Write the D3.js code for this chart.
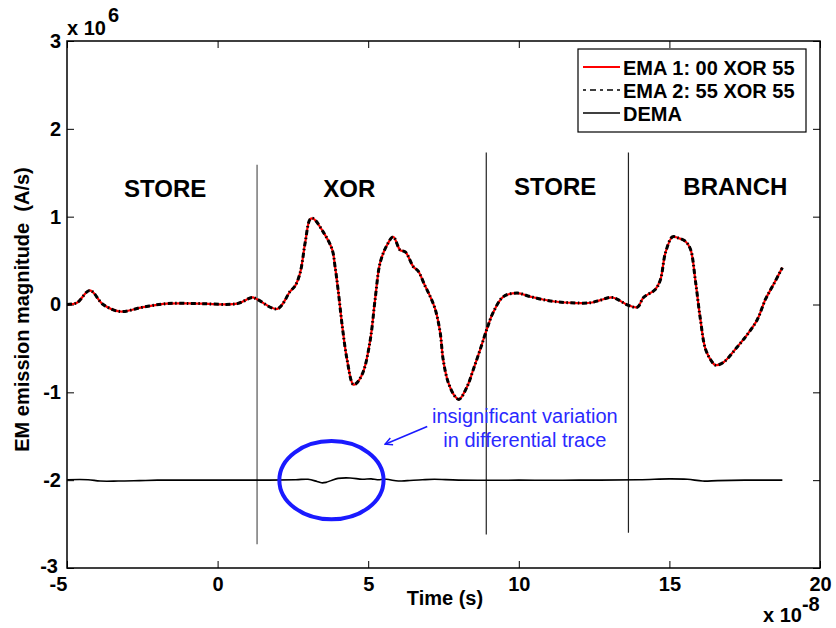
<!DOCTYPE html>
<html>
<head>
<meta charset="utf-8">
<script src="https://cdn.jsdelivr.net/npm/d3@7"></script>
<style>
  html, body { margin: 0; padding: 0; background: #fff; }
  svg { display: block; font-family: "Liberation Sans", Arial, sans-serif; }
</style>
</head>
<body>
<svg id="chart" width="836" height="628"></svg>
<script>
// Time axis in units of 1e-8 s, magnitude in units of 1e6 A/s
const timeEMA1 = [-5.00, -4.67, -4.24, -3.80, -3.24, -2.48, -1.68, -0.58, 0.65, 1.15, 1.31, 1.98,
  2.41, 2.57, 2.74, 2.91, 3.07, 3.17, 3.50, 3.80, 3.90, 4.00, 4.14, 4.30, 4.50, 4.60, 4.83,
  5.07, 5.23, 5.40, 5.63, 5.83, 6.06, 6.23, 6.50, 6.66, 6.89, 7.06, 7.23, 7.39, 7.49, 7.66,
  7.89, 8.02, 8.29, 8.49, 8.72, 8.95, 9.15, 9.49, 9.95, 10.38, 11.05, 11.71, 12.38, 12.71,
  13.11, 13.64, 13.94, 14.14, 14.53, 14.70, 14.87, 15.10, 15.27, 15.53, 15.70, 15.86, 16.03,
  16.20, 16.43, 16.53, 16.79, 17.26, 17.59, 17.92, 18.19, 18.46, 18.75];
const valuesEMA1 = [0.00, 0.02, 0.16, 0.00, -0.08, -0.03, 0.01, 0.01, 0.01, 0.08, 0.06, -0.05,
  0.15, 0.21, 0.36, 0.71, 0.97, 0.98, 0.83, 0.63, 0.43, 0.17, -0.25, -0.63, -0.91, -0.90, -0.77,
  -0.40, 0.06, 0.48, 0.68, 0.77, 0.62, 0.60, 0.43, 0.38, 0.21, 0.09, -0.06, -0.32, -0.63, -0.89,
  -1.05, -1.08, -0.93, -0.74, -0.51, -0.27, -0.09, 0.09, 0.13, 0.09, 0.04, 0.02, 0.02, 0.05,
  0.08, -0.01, -0.03, 0.08, 0.17, 0.28, 0.59, 0.77, 0.76, 0.72, 0.63, 0.28, -0.17,
  -0.51, -0.66, -0.69, -0.66, -0.48, -0.34, -0.17, 0.06, 0.23, 0.42];

const timeEMA2 = timeEMA1;
const valuesEMA2 = [0.00, 0.02, 0.16, 0.00, -0.08, -0.03, 0.01, 0.01, 0.01, 0.08, 0.06, -0.05,
  0.15, 0.21, 0.36, 0.71, 0.97, 0.98, 0.83, 0.63, 0.43, 0.17, -0.25, -0.63, -0.91, -0.90, -0.77,
  -0.40, 0.06, 0.48, 0.68, 0.77, 0.62, 0.60, 0.43, 0.38, 0.21, 0.09, -0.06, -0.32, -0.63, -0.89,
  -1.05, -1.08, -0.93, -0.74, -0.51, -0.27, -0.09, 0.09, 0.13, 0.09, 0.04, 0.02, 0.02, 0.05,
  0.08, -0.01, -0.03, 0.08, 0.17, 0.28, 0.59, 0.77, 0.76, 0.72, 0.63, 0.28, -0.17,
  -0.51, -0.66, -0.69, -0.66, -0.48, -0.34, -0.17, 0.06, 0.23, 0.42];

// Differential trace, shifted to -2
const timeDEMA = [-5.0, -4.3, -3.9, -3.3, -2.6, -2.0, 0.0, 1.5, 2.6, 3.0, 3.3, 3.45, 3.6, 3.8,
  4.0, 4.4, 4.8, 5.1, 5.3, 5.6, 6.0, 6.3, 6.8, 7.2, 8.0, 10.0, 12.0, 14.0, 15.0, 15.6, 16.1,
  16.6, 17.5, 18.75];
const valuesDEMA = [-1.995, -1.995, -2.01, -2.01, -2.005, -2.0, -2.0, -2.0, -1.995, -1.99, -2.015,
  -2.03, -2.025, -2.0, -1.98, -1.975, -1.99, -1.985, -1.995, -1.99, -2.01, -2.005, -1.995,
  -1.99, -2.0, -2.0, -2.0, -1.995, -1.985, -1.99, -2.01, -2.005, -2.0, -2.0];

const xTicks = [-5, 0, 5, 10, 15, 20];
const yTicks = [-3, -2, -1, 0, 1, 2, 3];

const seriesNames = ["EMA 1: 00 XOR 55", "EMA 2: 55 XOR 55", "DEMA"];

// Instruction boundaries: time, top, bottom
const boundaryTime = [1.31, 8.92, 13.64];
const boundaryTop = [1.59, 1.73, 1.73];
const boundaryBottom = [-2.73, -2.62, -2.60];

const sectionNames = ["STORE", "XOR", "STORE", "BRANCH"];
const sectionTime = [-1.74, 4.37, 11.21, 17.19];
const sectionLevel = [1.22, 1.22, 1.25, 1.25];

const noteLines = ["insignificant variation", "in differential trace"];

const svg = d3.select("#chart");
const plotLeft = 67, plotRight = 820, plotTop = 41, plotBottom = 568;

const x = d3.scaleLinear().domain([-5, 20]).range([plotLeft, plotRight]);
const y = d3.scaleLinear().domain([-3, 3]).range([plotBottom, plotTop]);

const plainNumber = d => String(d);

const tickFont = g => g.selectAll("text")
  .attr("font-size", 20).attr("font-weight", "bold").attr("fill", "#000")
  .attr("font-family", "Liberation Sans, Arial, sans-serif");

// Axes with inward ticks, mirrored on top and right
const gx = svg.append("g").attr("transform", `translate(0,${plotBottom})`)
  .call(d3.axisBottom(x).tickValues(xTicks).tickFormat(plainNumber)
    .tickSizeInner(-7).tickSizeOuter(0).tickPadding(9))
  .call(tickFont);
gx.select(".domain").remove();
gx.selectAll("line").attr("stroke", "#000");
gx.selectAll(".tick").filter(d => d === -5).select("text").attr("dx", -9);

const gy = svg.append("g").attr("transform", `translate(${plotLeft},0)`)
  .call(d3.axisLeft(y).tickValues(yTicks).tickFormat(plainNumber)
    .tickSizeInner(-7).tickSizeOuter(0).tickPadding(6))
  .call(tickFont);
gy.select(".domain").remove();
gy.selectAll("line").attr("stroke", "#000");
gy.selectAll(".tick").filter(d => d === -3).select("text").attr("dx", -3).attr("dy", "0.2em");

const gt = svg.append("g").attr("transform", `translate(0,${plotTop})`)
  .call(d3.axisTop(x).tickValues(xTicks).tickSizeInner(-7).tickSizeOuter(0).tickFormat(""));
gt.select(".domain").remove();
gt.selectAll("line").attr("stroke", "#000");

const gr = svg.append("g").attr("transform", `translate(${plotRight},0)`)
  .call(d3.axisRight(y).tickValues(yTicks).tickSizeInner(-7).tickSizeOuter(0).tickFormat(""));
gr.select(".domain").remove();
gr.selectAll("line").attr("stroke", "#000");

svg.append("rect")
  .attr("x", plotLeft).attr("y", plotTop)
  .attr("width", plotRight - plotLeft).attr("height", plotBottom - plotTop)
  .attr("fill", "none").attr("stroke", "#000").attr("stroke-width", 1.5);

// Exponent labels
const expTop = svg.append("text").attr("x", 67).attr("y", 35)
  .attr("font-size", 20).attr("font-weight", "bold");
expTop.append("tspan").text("x 10");
expTop.append("tspan").attr("dy", -13).attr("dx", 2).text("6");

const expBottom = svg.append("text").attr("x", 763).attr("y", 622)
  .attr("font-size", 20).attr("font-weight", "bold");
expBottom.append("tspan").text("x 10");
expBottom.append("tspan").attr("dy", -11).text("-8");

// Axis titles
svg.append("text")
  .attr("x", 445).attr("y", 605)
  .attr("text-anchor", "middle")
  .attr("font-size", 20).attr("font-weight", "bold")
  .text("Time (s)");

svg.append("text")
  .attr("transform", `translate(29,${(plotTop + plotBottom) / 2 + 5}) rotate(-90)`)
  .attr("text-anchor", "middle")
  .attr("font-size", 20).attr("font-weight", "bold")
  .attr("xml:space", "preserve")
  .text("EM emission magnitude  (A/s)");

// Instruction boundaries
svg.append("g").selectAll("line")
  .data(boundaryTime)
  .join("line")
  .attr("x1", d => x(d)).attr("x2", d => x(d))
  .attr("y1", (d, i) => y(boundaryTop[i]))
  .attr("y2", (d, i) => y(boundaryBottom[i]))
  .attr("stroke", (d, i) => i === 0 ? "#555" : "#222")
  .attr("stroke-width", 1.2);

svg.append("g").selectAll("text")
  .data(sectionNames)
  .join("text")
  .attr("x", (d, i) => x(sectionTime[i]))
  .attr("y", (d, i) => y(sectionLevel[i]))
  .attr("text-anchor", "middle")
  .attr("font-size", 24).attr("font-weight", "bold")
  .text(d => d);

// Traces
const line = (tx, vy) => d3.line()
  .x((d, i) => x(tx[i]))
  .y(d => y(d))
  .curve(d3.curveCatmullRom.alpha(0.5))(vy);

svg.append("path")
  .attr("d", line(timeEMA1, valuesEMA1))
  .attr("fill", "none").attr("stroke", "#ff0000").attr("stroke-width", 2.2);

svg.append("path")
  .attr("d", line(timeEMA2, valuesEMA2))
  .attr("fill", "none").attr("stroke", "#000").attr("stroke-width", 3)
  .attr("stroke-dasharray", "5,2.5,1.5,2.5");

svg.append("path")
  .attr("d", line(timeDEMA, valuesDEMA))
  .attr("fill", "none").attr("stroke", "#000").attr("stroke-width", 1.6);

// Annotation: ellipse, arrow and note
const blue = "#1a1aff";
svg.append("ellipse")
  .attr("cx", x(3.78)).attr("cy", y(-2.0))
  .attr("rx", x(3.78 + 1.73) - x(3.78))
  .attr("ry", y(-2.0) - y(-2.0 + 0.445))
  .attr("fill", "none").attr("stroke", blue).attr("stroke-width", 4);

svg.append("defs").append("marker")
  .attr("id", "head")
  .attr("viewBox", "0 0 10 10")
  .attr("refX", 9).attr("refY", 5)
  .attr("markerWidth", 9).attr("markerHeight", 9)
  .attr("markerUnits", "userSpaceOnUse")
  .attr("orient", "auto")
  .append("path")
  .attr("d", "M1,1 L9,5 L1,9")
  .attr("fill", "none").attr("stroke", blue).attr("stroke-width", 1.6);

svg.append("line")
  .attr("x1", x(6.96)).attr("y1", y(-1.39))
  .attr("x2", x(5.56)).attr("y2", y(-1.59))
  .attr("stroke", blue).attr("stroke-width", 1.6)
  .attr("marker-end", "url(#head)");

svg.append("g").selectAll("text")
  .data(noteLines)
  .join("text")
  .attr("x", x(10.2))
  .attr("y", (d, i) => 423 + i * 24)
  .attr("text-anchor", "middle")
  .attr("font-size", 20)
  .attr("fill", "#2a2aff")
  .text(d => d);

// Legend
const legend = svg.append("g");
legend.append("rect")
  .attr("x", 578).attr("y", 49).attr("width", 228).attr("height", 83)
  .attr("fill", "#fff").attr("stroke", "#000").attr("stroke-width", 1.2);
const legendStyles = [
  { stroke: "#ff0000", width: 2, dash: null },
  { stroke: "#000", width: 1.6, dash: "3,4,6,4" },
  { stroke: "#000", width: 1.6, dash: null }
];
seriesNames.forEach((name, i) => {
  const ly = 67 + i * 23;
  legend.append("line")
    .attr("x1", 583).attr("x2", 620).attr("y1", ly).attr("y2", ly)
    .attr("stroke", legendStyles[i].stroke)
    .attr("stroke-width", legendStyles[i].width)
    .attr("stroke-dasharray", legendStyles[i].dash);
  legend.append("text")
    .attr("x", 623).attr("y", ly + 8)
    .attr("font-size", 20).attr("font-weight", "bold")
    .text(name);
});
</script>
</body>
</html>
